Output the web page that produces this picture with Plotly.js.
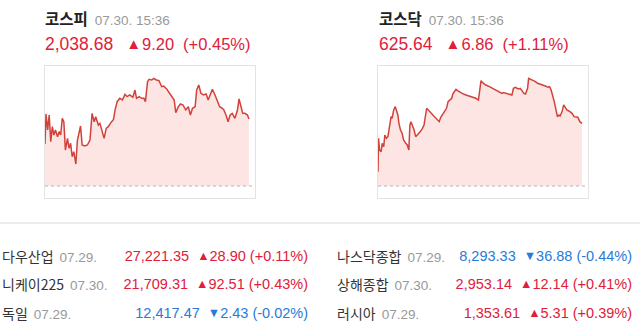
<!DOCTYPE html>
<html><head><meta charset="utf-8">
<script src="https://cdn.plot.ly/plotly-3.0.1.min.js"></script>
<style>
html,body{margin:0;padding:0;}
body{width:640px;height:329px;background:#fff;position:relative;overflow:hidden;font-family:"Liberation Sans","Noto Sans CJK KR",sans-serif;}
.abs{position:absolute;white-space:nowrap;}
.up{color:#e0203a}
.dn{color:#2a7ad9}
.ttl{font-family:"Noto Sans CJK KR",sans-serif;font-weight:700;font-size:15.5px;color:#222;}
.date{font-size:13.5px;color:#999;font-weight:400;margin-left:7px;font-family:"Liberation Sans",sans-serif;}
.big{font-size:17.5px;}
.mid{font-size:16.5px;}
.tri{font-size:15px;position:relative;top:-1px;}
.tri2{font-size:12.5px;position:relative;top:-1px;}
.name{font-family:"Noto Sans CJK KR",sans-serif;font-size:14px;color:#333;}
.tdate{font-size:13.5px;color:#999;margin-left:6px;font-family:"Liberation Sans",sans-serif;}
.tval{font-size:14.5px;}
.box{position:absolute;border:1px solid #e3e3e3;width:210px;height:132px;}
.sep{position:absolute;left:0;top:222px;width:640px;height:2px;background:#ededed;}
</style>
</head><body>
<div class="box" id="boxA" style="left:44px;top:65px;"><div id="chartA"></div></div>
<div class="box" id="boxB" style="left:377px;top:65px;"><div id="chartB"></div></div>
<div class="sep"></div>
<div id="texts"></div>
<script>
// ---- data ----
const indexNames = ['코스피', '코스닥'];
const indexDate = '07.30. 15:36';
const indexClose = [2038.68, 625.64];
const indexChange = [9.20, 6.86];
const indexPct = [0.45, 1.11];

const kospiTime = [0,2,5,8,11,14,17,20,24,27,30,33,36,39,43,46,49,52,55,59,62,66,68,71,76,81,86,90,94,97,102,105,110,113,117,121,125,131,134,138,143,148,153,157,162,168,172,175,180,185,189,192,196,199,204,208,213,218,223,227,233,237,242,247,250,255,259,264,269,274,278,282,287,290,294,298,303,308,312,317,320,325,329,334,339,342,346,350,354,358,363,368,371,374,378,382,387,390];
const kospiValue = [2035.25,2039.37,2037.17,2039.23,2035.57,2037.63,2036.48,2037.17,2036.25,2036.94,2036.48,2038.77,2038.31,2034.42,2036.02,2034.65,2035.34,2033.50,2034.19,2032.50,2035.79,2037.40,2037.72,2035.11,2034.97,2035.11,2035.79,2039.46,2038.31,2039.00,2037.86,2038.08,2036.94,2036.02,2037.40,2037.63,2038.08,2038.63,2039.92,2041.06,2041.52,2041.29,2042.07,2041.75,2041.98,2041.66,2042.66,2041.52,2041.75,2041.52,2041.52,2041.06,2043.81,2044.13,2044.04,2044.27,2044.04,2043.95,2043.12,2043.21,2042.76,2042.30,2041.75,2041.29,2039.55,2040.37,2040.74,2040.60,2039.92,2040.37,2039.23,2040.15,2040.37,2042.66,2043.35,2042.21,2041.98,2042.12,2041.29,2042.21,2042.76,2041.98,2041.29,2040.37,2040.15,2039.92,2039.23,2038.31,2039.23,2039.46,2038.77,2039.92,2041.43,2040.37,2039.46,2039.46,2039.23,2038.68];

const kosdaqTime = [0,1,3,6,8,11,13,16,19,22,25,27,30,33,35,38,40,43,46,49,53,56,59,61,63,67,69,72,75,78,81,85,88,91,93,96,101,104,107,110,113,117,120,123,126,131,134,138,141,143,147,149,152,155,161,168,174,181,187,192,195,197,200,203,206,213,219,225,232,237,240,245,251,256,259,263,266,269,272,275,279,282,286,288,291,296,301,305,310,315,320,325,328,331,334,337,341,343,346,348,352,355,358,361,365,368,371,375,379,382,386,389,390];
const kosdaqValue = [620.35,624.00,622.72,622.54,623.45,623.09,624.36,624.00,624.18,625.28,626.37,626.19,627.10,627.46,627.10,626.55,625.64,624.91,624.55,623.82,623.45,623.27,622.72,625.46,625.82,625.28,624.91,624.18,624.36,624.55,624.73,625.09,625.46,626.55,627.28,627.10,626.81,626.55,626.37,626.19,626.00,625.82,626.30,626.55,626.73,627.28,628.01,628.19,628.38,628.85,629.29,629.36,629.21,629.10,628.92,628.74,628.63,628.48,628.38,628.19,629.47,630.31,630.09,629.94,629.83,629.65,629.47,629.29,629.10,628.92,629.00,628.92,628.81,628.74,629.47,629.58,629.47,629.40,629.47,629.21,628.92,628.85,629.47,630.56,630.49,630.38,630.20,630.02,629.94,629.80,629.72,629.58,629.65,629.29,628.74,628.01,626.92,626.37,626.55,626.44,626.92,627.65,627.39,627.10,626.99,626.81,626.73,626.37,626.30,626.30,625.82,625.64,625.64];

const worldNames = ['다우산업', '니케이225', '독일', '나스닥종합', '상해종합', '러시아'];
const worldDates = ['07.29.', '07.30.', '07.29.', '07.29.', '07.30.', '07.29.'];
const worldValues = [27221.35, 21709.31, 12417.47, 8293.33, 2953.14, 1353.61];
const worldChanges = [28.90, 92.51, -2.43, -36.88, 12.14, 5.31];
const worldPcts = [0.11, 0.43, -0.02, -0.44, 0.41, 0.39];

// ---- helpers ----
function fmt(n){ return Math.abs(n).toLocaleString('en-US',{minimumFractionDigits:2, maximumFractionDigits:2}); }
function pctStr(p){ return '(' + (p >= 0 ? '+' : '-') + fmt(p) + '%)'; }

// ---- header texts ----
const T = document.getElementById('texts');
const headerLeft = [45, 379];
const chgGap = [13, 13];
let html = '';
for (let i = 0; i < 2; i++) {
  const cls = indexChange[i] >= 0 ? 'up' : 'dn';
  const tri = indexChange[i] >= 0 ? '▲' : '▼';
  html += `<div class="abs" style="left:${headerLeft[i]}px;top:7px;line-height:22px;"><span class="ttl">${indexNames[i]}</span><span class="date">${indexDate}</span></div>`;
  html += `<div class="abs ${cls}" style="left:${headerLeft[i]}px;top:33px;line-height:22px;"><span class="big">${fmt(indexClose[i])}</span><span class="tri" style="margin-left:${chgGap[i]}px">${tri}</span><span class="mid" style="margin-left:1px">${fmt(indexChange[i])}</span><span class="mid" style="margin-left:9px">${pctStr(indexPct[i])}</span></div>`;
}
// ---- world table ----
const rowTop = [245, 273, 302];
for (let i = 0; i < worldNames.length; i++) {
  const col = i < 3 ? 0 : 1;
  const r = i % 3;
  const nameLeft = col === 0 ? 2 : 337;
  const valRight = col === 0 ? 640 - 308 : 640 - 632;
  const cls = worldChanges[i] >= 0 ? 'up' : 'dn';
  const tri = worldChanges[i] >= 0 ? '▲' : '▼';
  html += `<div class="abs" style="left:${nameLeft}px;top:${rowTop[r]}px;line-height:22px;"><span class="name">${worldNames[i]}</span><span class="tdate">${worldDates[i]}</span></div>`;
  html += `<div class="abs ${cls} tval" style="right:${valRight}px;top:${rowTop[r]}px;line-height:22px;">${fmt(worldValues[i])}<span class="tri2" style="margin-left:8px">${tri}</span>${fmt(worldChanges[i])} ${pctStr(worldPcts[i])}</div>`;
}
T.innerHTML = html;

// ---- charts ----
function drawChart(id, t, v, close, change, yRange, xMax) {
  const prev = +(close - change).toFixed(2);
  const base = t.map(() => prev);
  Plotly.newPlot(id, [
    {x: t, y: base, type: 'scatter', mode: 'lines', line: {width: 0, color: 'rgba(0,0,0,0)'}, hoverinfo: 'skip', showlegend: false},
    {x: t, y: v, type: 'scatter', mode: 'lines', line: {color: '#d2423b', width: 1.5}, fill: 'tonexty', fillcolor: '#fde5e3', showlegend: false}
  ], {
    width: 210, height: 132,
    margin: {l: 0, r: 0, t: 0, b: 0},
    paper_bgcolor: '#fff', plot_bgcolor: '#fff',
    xaxis: {range: [0, xMax], visible: false},
    yaxis: {range: yRange, visible: false},
    shapes: [{type: 'line', xref: 'paper', x0: 0, x1: 1, yref: 'y', y0: prev, y1: prev,
              line: {color: '#b5b5b5', width: 1, dash: '3px,3px'}}],
    showlegend: false
  }, {staticPlot: true, displayModeBar: false});
}
drawChart('chartA', kospiTime, kospiValue, indexClose[0], indexChange[0], [2027.83, 2045.96], 401.5);
drawChart('chartB', kosdaqTime, kosdaqValue, indexClose[1], indexChange[1], [617.47, 631.91], 401.5);
</script>
</body></html>
